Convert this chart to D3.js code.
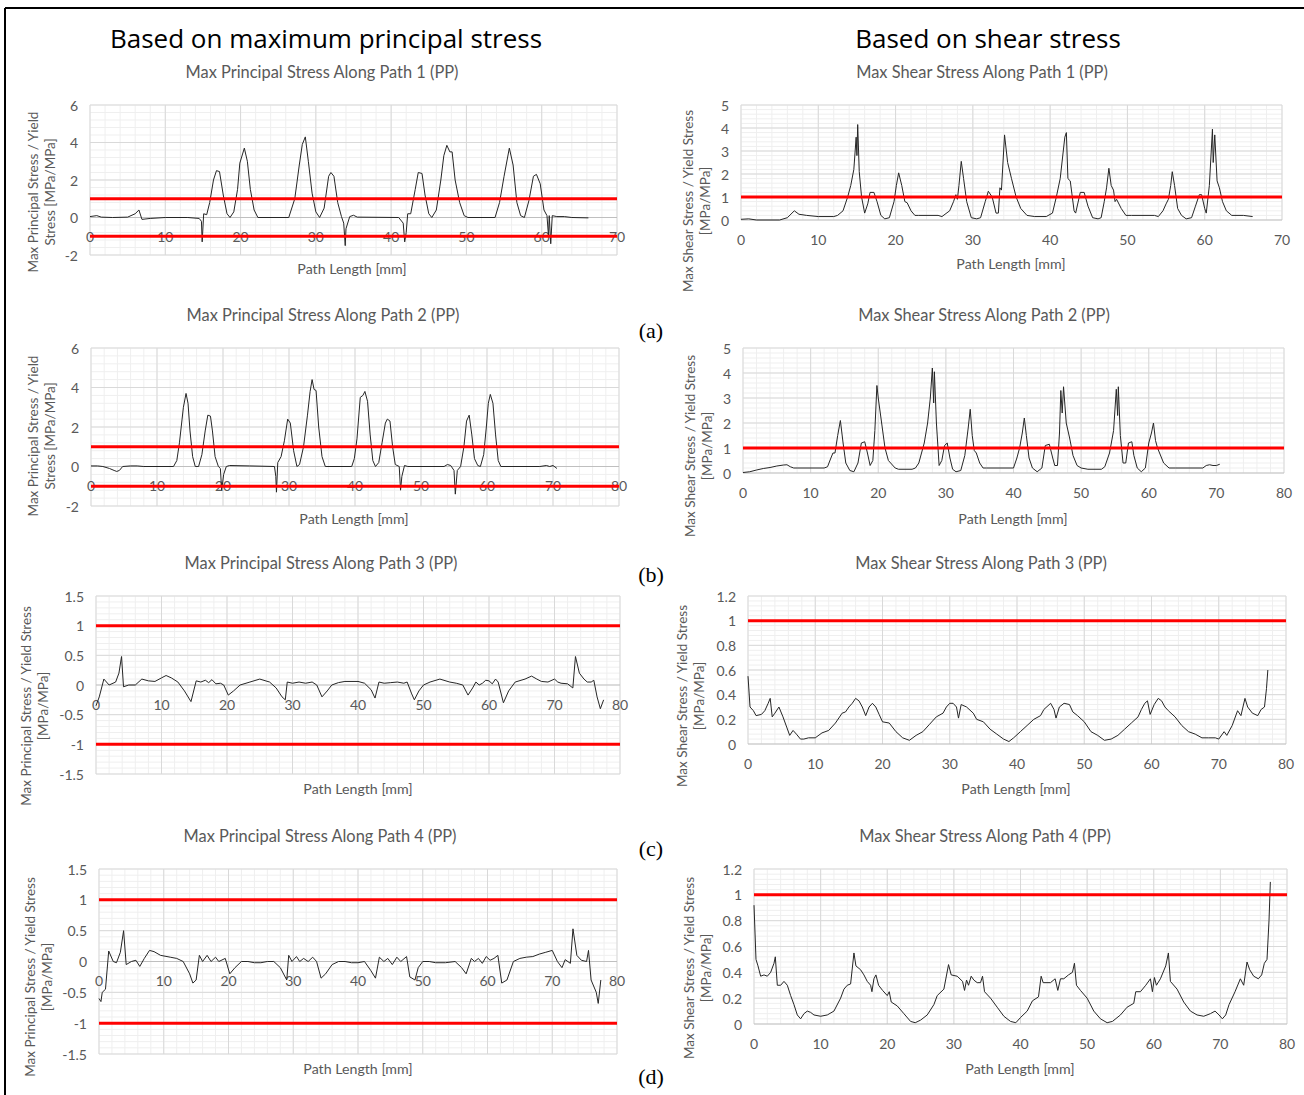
<!DOCTYPE html>
<html>
<head>
<meta charset="utf-8">
<script src="https://cdn.jsdelivr.net/npm/d3@7"></script>
<style>
  body { margin: 0; background: #fff; }
  svg { display: block; font-family: Lato, "Noto Sans", sans-serif; }
</style>
</head>
<body>
<div id="container"></div>
<script>
// ---- data ----
var xTicks70 = [0, 10, 20, 30, 40, 50, 60, 70];
var xTicks80 = [0, 10, 20, 30, 40, 50, 60, 70, 80];
var principalTicksWide = [-2, 0, 2, 4, 6];
var shearTicksWide = [0, 1, 2, 3, 4, 5];
var principalTicksNarrow = [-1.5, -1, -0.5, 0, 0.5, 1, 1.5];
var shearTicksNarrow = [0, 0.2, 0.4, 0.6, 0.8, 1, 1.2];
var principalLimits = [1, -1];
var shearLimits = [1];

var p1Principal = [[0,0.05],[0.9,0.1],[1.5,0.02],[3,0],[5,0.02],[6,0.2],[6.5,0.4],[6.9,-0.1],[8,-0.05],[10,0],[13,0],[14.5,-0.05],[14.8,-0.2],[14.9,-1.3],[15.1,0.2],[15.5,0.15],[15.9,0.8],[16.4,2.0],[16.8,2.5],[17.2,2.45],[17.7,1.2],[18.2,0.2],[18.6,0],[19.1,0.3],[19.6,1.5],[19.9,2.9],[20.5,3.7],[20.9,3.0],[21.3,1.5],[21.8,0.4],[22.3,0],[26.4,0],[27.2,1.0],[27.8,2.8],[28.2,3.9],[28.6,4.3],[29.0,3.0],[29.5,1.3],[30.0,0.3],[30.5,0],[31.1,0.5],[31.7,2.2],[32.0,2.4],[32.4,2.2],[32.9,0.8],[33.4,0.05],[33.7,-0.3],[33.9,-1.5],[34.0,-0.6],[34.5,0.05],[35.0,0.12],[35.5,0.02],[41.0,0],[41.6,-0.3],[41.8,-1.3],[42.0,-0.8],[42.2,0.2],[42.6,0.2],[43.2,1.5],[43.6,2.4],[44.1,2.35],[44.5,1.2],[45.0,0.2],[45.4,0],[46.0,0.4],[46.6,2.0],[47.0,3.3],[47.4,3.85],[47.8,3.5],[48.1,3.5],[48.5,2.0],[49.1,0.8],[49.7,0.1],[50.2,0],[53.8,0],[54.4,0.8],[55.0,2.2],[55.7,3.7],[56.2,2.8],[56.7,0.8],[57.2,0.1],[57.7,0],[58.3,0.9],[58.9,2.2],[59.3,2.3],[59.8,1.8],[60.3,0.4],[60.7,0.1],[60.9,-1.0],[61.0,0.1],[61.2,-1.4],[61.4,0.1],[62,0.05],[63,0.05],[64,0],[66.2,-0.02]];

var p1Shear = [[0,0.03],[1,0.05],[2,0],[5,0],[6,0.1],[6.9,0.4],[7.5,0.25],[8.5,0.2],[10,0.15],[12,0.15],[12.5,0.2],[13.2,0.4],[13.8,1.0],[14.2,1.5],[14.6,2.2],[14.9,3.6],[15.0,2.8],[15.1,4.15],[15.3,2.1],[15.6,1.0],[16.0,0.3],[16.4,0.7],[16.7,1.2],[17.2,1.2],[17.6,0.8],[18.1,0.2],[18.6,0.05],[19.2,0.1],[19.8,0.8],[20.1,1.5],[20.4,2.05],[20.8,1.5],[21.2,0.8],[21.5,0.75],[22,0.4],[22.5,0.2],[23,0.2],[25.5,0.2],[26,0.15],[27,0.4],[27.5,0.8],[27.8,1.1],[28,0.9],[28.2,1.5],[28.5,2.55],[28.8,1.8],[29.2,0.8],[29.8,0.1],[30.5,0.05],[31,0.1],[31.6,0.8],[32,1.25],[32.5,1.0],[33,0.3],[33.3,0.3],[33.5,1.4],[33.7,1.3],[34.1,3.7],[34.5,2.5],[35,1.8],[35.6,1.0],[36.2,0.5],[37,0.2],[38,0.15],[39.5,0.15],[40.3,0.3],[40.8,1.0],[41.3,1.8],[41.9,3.6],[42.1,3.8],[42.3,1.8],[42.6,1.7],[43.1,0.4],[43.3,0.3],[43.9,1.2],[44.4,1.2],[44.9,0.6],[45.5,0.1],[46.2,0.05],[46.6,0.1],[47,0.8],[47.3,1.4],[47.6,2.25],[47.9,1.5],[48.2,1.3],[48.4,0.8],[48.6,0.9],[49.2,0.5],[49.8,0.2],[50.5,0.2],[53.5,0.2],[54,0.15],[54.6,0.4],[55,0.7],[55.3,0.9],[55.6,1.5],[55.8,2.1],[56.1,1.5],[56.5,0.5],[57,0.2],[57.6,0.05],[58.3,0.1],[58.8,0.6],[59.3,1.1],[59.6,1.1],[60,0.5],[60.2,0.3],[60.6,1.5],[61,3.95],[61.1,2.5],[61.3,3.7],[61.6,1.7],[61.9,1.4],[62.3,0.8],[62.8,0.4],[63.5,0.2],[65,0.2],[66.2,0.15]];

var p2Principal = [[0,0.03],[1,0.03],[1.8,0],[2.8,-0.1],[3.5,-0.2],[3.9,-0.25],[4.3,-0.2],[4.8,0],[6,0.03],[7,0.03],[8,0],[12.5,0],[13.0,0.3],[13.4,1.2],[13.8,2.4],[14.0,3.0],[14.4,3.7],[14.7,3.2],[15.0,1.8],[15.4,0.5],[15.8,0],[16.3,0],[16.8,0.6],[17.3,1.8],[17.7,2.6],[18.1,2.55],[18.4,1.8],[18.8,0.5],[19.3,0],[19.6,-0.1],[19.8,-1.2],[20.1,-0.4],[20.5,0],[21,0.05],[24,0.03],[27.8,0],[28.0,-0.5],[28.1,-1.3],[28.3,0.2],[28.8,0.5],[29.3,1.3],[29.8,2.4],[30.2,2.2],[30.7,0.8],[31.2,0],[31.6,0.1],[32.2,1.0],[32.8,2.6],[33.2,3.8],[33.5,4.4],[33.8,3.9],[34.1,3.85],[34.5,2.0],[35,0.5],[35.5,0],[39.5,0],[39.9,0.4],[40.3,1.4],[40.8,3.5],[41.2,3.6],[41.5,3.8],[41.9,3.3],[42.3,1.6],[42.7,0.3],[43.1,0],[43.6,0.2],[44.1,1.2],[44.6,2.2],[44.9,2.4],[45.3,2.3],[45.7,1.0],[46.1,0.1],[46.7,0],[46.9,-1.2],[47.1,-0.5],[47.5,0.05],[48,0],[53.5,0],[54,0.1],[54.5,0.05],[55,-0.2],[55.2,-1.4],[55.5,-0.2],[56,0],[56.5,1.0],[56.9,2.3],[57.3,2.6],[57.7,1.6],[58.1,0.4],[58.6,0.05],[59,0],[59.5,0.6],[59.9,2.0],[60.2,3.2],[60.5,3.65],[60.9,3.2],[61.3,1.6],[61.7,0.3],[62.1,0],[68,0],[69,0.05],[69.5,0],[70,0.05],[70.6,-0.1]];

var p2Shear = [[0,0.02],[1,0.05],[2,0.12],[3,0.18],[4,0.22],[5,0.28],[6,0.32],[6.5,0.33],[7,0.25],[7.5,0.2],[8,0.2],[12,0.2],[12.5,0.25],[13,0.6],[13.3,0.8],[13.6,0.8],[14,1.5],[14.4,2.1],[14.8,1.2],[15.2,0.4],[15.8,0.1],[16.4,0.05],[17,0.4],[17.5,1.2],[18,1.25],[18.4,0.8],[18.8,0.3],[19.2,0.5],[19.5,1.7],[19.8,3.5],[20,3.0],[20.5,2.0],[21,1.0],[21.5,0.5],[22.5,0.2],[23,0.15],[25,0.15],[25.5,0.2],[26,0.4],[26.8,1.2],[27.3,2.0],[27.7,3.0],[28.0,4.2],[28.2,2.8],[28.3,4.05],[28.6,2.0],[29,0.3],[29.4,0.5],[29.8,1.1],[30.2,1.2],[30.6,0.6],[31,0.15],[31.5,0.05],[32.2,0.1],[32.8,0.7],[33.3,1.8],[33.6,2.55],[33.9,1.5],[34.2,0.9],[34.5,0.8],[35,0.4],[35.5,0.2],[36,0.2],[40,0.2],[40.5,0.6],[40.9,1.0],[41.3,1.6],[41.6,2.2],[41.9,1.5],[42.3,0.6],[42.8,0.2],[43.5,0.05],[44.2,0.2],[44.7,1.1],[45.3,1.15],[45.8,0.6],[46.1,0.3],[46.5,0.3],[46.8,1.6],[47.0,3.3],[47.2,2.4],[47.4,3.45],[47.8,2.0],[48.3,1.4],[48.8,0.7],[49.4,0.3],[50,0.2],[51,0.15],[53,0.15],[53.5,0.25],[54.2,0.8],[54.8,1.7],[55.2,3.35],[55.4,2.3],[55.5,3.45],[55.8,1.5],[56.2,0.4],[56.6,0.4],[57,1.2],[57.5,1.25],[57.8,0.7],[58.3,0.2],[58.9,0.05],[59.5,0.2],[60,1.2],[60.4,1.6],[60.7,2.0],[61,1.3],[61.3,1.0],[61.6,0.8],[62.2,0.4],[63,0.2],[64,0.2],[68,0.2],[68.5,0.3],[69,0.33],[69.5,0.3],[70,0.3],[70.5,0.35]];

var p3Principal = [[0,-0.35],[0.5,-0.2],[1.2,0.1],[2,0],[3,0.05],[3.5,0.2],[3.9,0.48],[4.2,-0.03],[5,0],[6,0],[7,0.1],[8,0.07],[9,0.06],[10,0.12],[10.7,0.16],[11.5,0.12],[12.5,0.05],[13.5,-0.1],[14.5,-0.28],[15.3,0.07],[16,0.05],[16.7,0.08],[17.2,0.04],[17.7,0.09],[18.3,0.02],[19,0.03],[19.5,0],[20.2,-0.17],[21,-0.1],[22,0],[23.5,0.05],[25,0.1],[26.5,0.05],[27.5,-0.05],[28.4,-0.2],[28.9,-0.25],[29.2,0.05],[30,0.03],[31,0.05],[32,0.03],[33,0.05],[33.7,0],[34.5,-0.2],[35.3,-0.1],[36,0],[37,0.04],[38,0.06],[40,0.06],[41,0.03],[42,-0.08],[42.6,-0.22],[43.2,0.05],[44,0.03],[45,0.04],[46,0.05],[47,0.03],[47.5,0.05],[48.2,-0.15],[48.6,-0.25],[49.3,-0.1],[50,0],[51,0.05],[52.5,0.1],[54,0.05],[55,0.03],[56,0],[56.8,-0.17],[57.5,-0.05],[58,0.05],[58.5,0],[59,0.03],[59.5,0.08],[60,0.07],[60.5,0.02],[61,0.1],[61.4,0.05],[62.2,-0.3],[63,-0.1],[64,0.05],[65.5,0.1],[66.5,0.15],[67.3,0.1],[68,0.06],[69,0.05],[70,0.1],[70.5,0.05],[71,0.03],[72,0.02],[72.8,-0.05],[73.2,0.48],[73.8,0.2],[74.5,0.1],[75,0.05],[75.6,0.05],[76,0.08],[76.5,-0.2],[77,-0.4],[77.5,-0.25]];

var p3Shear = [[0,0.55],[0.3,0.3],[0.8,0.27],[1.2,0.23],[2,0.24],[2.5,0.27],[3,0.33],[3.3,0.37],[3.6,0.22],[4,0.25],[4.6,0.3],[5.2,0.22],[5.8,0.13],[6.2,0.07],[6.7,0.11],[7.2,0.08],[7.8,0.04],[8.3,0.04],[9,0.05],[10,0.05],[11,0.09],[12,0.11],[13,0.17],[14,0.25],[14.5,0.26],[15,0.3],[15.5,0.33],[16,0.37],[16.5,0.35],[17,0.3],[17.5,0.23],[18,0.3],[18.5,0.33],[19,0.3],[19.5,0.24],[20,0.18],[21,0.17],[22,0.1],[23,0.05],[24,0.03],[25,0.07],[26,0.1],[27,0.16],[28,0.22],[29,0.25],[29.5,0.3],[30,0.33],[30.5,0.33],[31,0.3],[31.3,0.21],[31.7,0.32],[32.5,0.3],[33.5,0.25],[34,0.2],[35,0.18],[36,0.12],[37,0.08],[38,0.04],[38.8,0.02],[39.5,0.05],[40.5,0.1],[41.5,0.15],[42.5,0.2],[43.5,0.23],[44,0.28],[45,0.33],[45.5,0.28],[45.8,0.21],[46.3,0.3],[47,0.33],[47.8,0.32],[48.3,0.26],[49,0.23],[50,0.18],[51,0.1],[52,0.07],[53,0.03],[54,0.04],[55,0.07],[56,0.12],[57,0.17],[58,0.22],[58.5,0.28],[59,0.33],[59.4,0.35],[59.8,0.24],[60.4,0.32],[61,0.37],[61.5,0.35],[62,0.3],[62.5,0.27],[63.5,0.22],[64.5,0.15],[65.5,0.1],[66.5,0.08],[67.5,0.05],[68.5,0.05],[69.5,0.05],[70,0.04],[70.8,0.1],[71.2,0.07],[72,0.15],[72.8,0.27],[73.3,0.23],[73.9,0.37],[74.3,0.3],[75,0.25],[75.8,0.23],[76.3,0.28],[76.8,0.3],[77.1,0.45],[77.3,0.6]];

var p4Principal = [[0,-0.6],[0.3,-0.65],[0.5,-0.5],[1,-0.45],[1.5,0.17],[2.2,0],[2.7,-0.02],[3.3,0.15],[3.8,0.5],[4.2,-0.05],[5,0],[5.7,0.02],[6.3,-0.08],[7,0.05],[7.8,0.18],[8.5,0.16],[9.5,0.1],[11,0.07],[12,0.05],[13,0],[14,-0.2],[14.5,-0.35],[15,-0.3],[15.5,0.1],[16,0],[16.7,0.1],[17.3,0],[18,0.07],[18.5,0],[19.5,0.05],[20.2,-0.2],[21,-0.1],[22,0],[23,0],[24,-0.02],[25,-0.02],[26,0],[27,0],[28,-0.1],[29,-0.3],[29.3,0.1],[29.8,0],[30.5,0.08],[31,0],[31.6,0.05],[32.3,0],[33,0.07],[33.6,0],[34.3,-0.27],[35,-0.2],[36,-0.05],[37,0],[38,0],[39,-0.02],[40,-0.02],[41,0],[42,-0.15],[42.7,-0.27],[43.3,0.07],[44,0],[44.6,0.05],[45.3,-0.05],[46,0.07],[46.6,0],[47.5,0.08],[48,-0.25],[48.8,-0.3],[49.3,-0.1],[50,0],[51,0],[52,-0.02],[53.5,-0.02],[55,0],[56,-0.1],[56.7,-0.2],[57.5,0.05],[58,0],[58.6,0.05],[59.2,-0.03],[59.8,0.08],[60.4,0.02],[61,0.05],[61.6,0.1],[62.2,-0.35],[63,-0.3],[64,0],[65,0.05],[66,0.07],[67,0.08],[68,0.12],[69,0.15],[70,0.18],[70.8,0],[71.5,-0.1],[72,0.03],[72.8,-0.03],[73.2,0.53],[73.8,0.1],[74.5,0.02],[75.3,0],[75.6,0.18],[76,-0.3],[76.8,-0.5],[77.1,-0.68],[77.5,-0.3]];

var p4Shear = [[0,0.92],[0.3,0.5],[0.6,0.45],[1,0.37],[1.5,0.38],[2,0.37],[2.5,0.4],[3,0.47],[3.2,0.52],[3.5,0.3],[4,0.3],[4.5,0.33],[5,0.3],[5.5,0.22],[6,0.15],[6.5,0.07],[7,0.04],[7.5,0.08],[8,0.1],[8.5,0.09],[9,0.07],[10,0.06],[11,0.07],[12,0.1],[13,0.2],[13.5,0.27],[14,0.3],[14.5,0.31],[15,0.55],[15.3,0.45],[16,0.42],[16.5,0.38],[17,0.33],[17.5,0.3],[17.7,0.25],[18,0.35],[18.3,0.38],[18.7,0.3],[19.3,0.26],[20,0.22],[20.3,0.25],[20.6,0.17],[21.5,0.14],[22.5,0.08],[23.5,0.02],[24.2,0.01],[25,0.03],[26,0.07],[27,0.15],[27.5,0.22],[28.5,0.27],[29.2,0.46],[29.6,0.38],[30.5,0.37],[31.3,0.33],[31.6,0.26],[31.9,0.34],[32.2,0.3],[32.6,0.37],[33,0.34],[33.5,0.32],[34,0.32],[34.3,0.37],[34.6,0.25],[35.5,0.2],[36.5,0.13],[37.5,0.06],[38.5,0.02],[39.3,0.01],[40,0.05],[41,0.1],[41.8,0.18],[42.7,0.21],[43.1,0.37],[43.4,0.32],[44.5,0.32],[45.2,0.35],[45.6,0.26],[46,0.35],[46.5,0.35],[47.2,0.38],[47.8,0.4],[48.1,0.47],[48.4,0.3],[49,0.26],[50,0.2],[51,0.1],[52,0.04],[53,0.01],[53.8,0.02],[55,0.07],[56,0.13],[57,0.16],[57.3,0.25],[58,0.25],[58.8,0.3],[59.5,0.35],[59.8,0.25],[60.1,0.36],[60.4,0.3],[61,0.35],[61.8,0.45],[62.2,0.55],[62.5,0.33],[63.5,0.27],[64.5,0.17],[65.5,0.1],[66.5,0.07],[67.5,0.06],[68.5,0.08],[69.2,0.1],[69.8,0.07],[70.3,0.04],[70.8,0.07],[71.3,0.15],[72.2,0.25],[73,0.35],[73.5,0.3],[74,0.48],[74.4,0.42],[75,0.37],[75.7,0.35],[76.2,0.38],[76.6,0.47],[77,0.5],[77.3,0.8],[77.5,1.1]];

var yTitlePrincipalA = ["Max Principal Stress / Yield", "Stress [MPa/MPa]"];
var yTitlePrincipalB = ["Max Principal Stress / Yield Stress", "[MPa/MPa]"];
var yTitleShear = ["Max Shear Stress / Yield Stress", "[MPa/MPa]"];

// ---- layout ----
var width = 1304, height = 1095;
var svg = d3.select("#container").append("svg")
    .attr("width", width).attr("height", height);

// frame (top and left edge of the figure box)
svg.append("line").attr("x1", 5).attr("x2", width).attr("y1", 8).attr("y2", 8)
    .attr("stroke", "#000").attr("stroke-width", 2);
svg.append("line").attr("x1", 5).attr("x2", 5).attr("y1", 8).attr("y2", height)
    .attr("stroke", "#000").attr("stroke-width", 2);

svg.append("text").attr("x", 326).attr("y", 38).attr("text-anchor", "middle")
    .attr("dominant-baseline", "central").attr("font-family", "'Open Sans', sans-serif")
    .attr("font-size", 26).attr("fill", "#000")
    .text("Based on maximum principal stress");
svg.append("text").attr("x", 988).attr("y", 38).attr("text-anchor", "middle")
    .attr("dominant-baseline", "central").attr("font-family", "'Open Sans', sans-serif")
    .attr("font-size", 26).attr("fill", "#000")
    .text("Based on shear stress");

[["(a)", 330], ["(b)", 574], ["(c)", 848], ["(d)", 1076]].forEach(function(d) {
  svg.append("text").attr("x", 651).attr("y", d[1]).attr("text-anchor", "middle")
      .attr("dominant-baseline", "central")
      .attr("font-family", "'Liberation Serif', 'Times New Roman', serif")
      .attr("font-size", 22).attr("fill", "#000").text(d[0]);
});

var panels = [
  { data: p1Principal, limits: principalLimits, title: "Max Principal Stress Along Path 1 (PP)", xt: xTicks70, yt: principalTicksWide,
    x0: 90, x1: 617, y0: 255, y1: 105, ySub: 5, titleX: 322, titleY: 71, axX: 352, axY: 268, yTitle: yTitlePrincipalA, ytX: 33, ytY: 192 },
  { data: p1Shear, limits: shearLimits, title: "Max Shear Stress Along Path 1 (PP)", xt: xTicks70, yt: shearTicksWide,
    x0: 741, x1: 1282, y0: 220, y1: 105, ySub: 5, titleX: 982, titleY: 71, axX: 1011, axY: 263, yTitle: yTitleShear, ytX: 688, ytY: 201 },
  { data: p2Principal, limits: principalLimits, title: "Max Principal Stress Along Path 2 (PP)", xt: xTicks80, yt: principalTicksWide,
    x0: 91, x1: 619, y0: 506, y1: 348, ySub: 5, titleX: 323, titleY: 314, axX: 354, axY: 518, yTitle: yTitlePrincipalA, ytX: 33, ytY: 436 },
  { data: p2Shear, limits: shearLimits, title: "Max Shear Stress Along Path 2 (PP)", xt: xTicks80, yt: shearTicksWide,
    x0: 743, x1: 1284, y0: 473, y1: 348, ySub: 5, titleX: 984, titleY: 314, axX: 1013, axY: 518, yTitle: yTitleShear, ytX: 690, ytY: 446 },
  { data: p3Principal, limits: principalLimits, title: "Max Principal Stress Along Path 3 (PP)", xt: xTicks80, yt: principalTicksNarrow,
    x0: 96, x1: 620, y0: 774, y1: 596, ySub: 5, titleX: 321, titleY: 562, axX: 358, axY: 788, yTitle: yTitlePrincipalB, ytX: 26, ytY: 706 },
  { data: p3Shear, limits: shearLimits, title: "Max Shear Stress Along Path 3 (PP)", xt: xTicks80, yt: shearTicksNarrow,
    x0: 748, x1: 1286, y0: 744, y1: 596, ySub: 5, titleX: 981, titleY: 562, axX: 1016, axY: 788, yTitle: yTitleShear, ytX: 682, ytY: 696 },
  { data: p4Principal, limits: principalLimits, title: "Max Principal Stress Along Path 4 (PP)", xt: xTicks80, yt: principalTicksNarrow,
    x0: 99, x1: 617, y0: 1054, y1: 869, ySub: 5, titleX: 320, titleY: 835, axX: 358, axY: 1068, yTitle: yTitlePrincipalB, ytX: 30, ytY: 977 },
  { data: p4Shear, limits: shearLimits, title: "Max Shear Stress Along Path 4 (PP)", xt: xTicks80, yt: shearTicksNarrow,
    x0: 754, x1: 1287, y0: 1024, y1: 869, ySub: 5, titleX: 985, titleY: 835, axX: 1020, axY: 1068, yTitle: yTitleShear, ytX: 689, ytY: 968 }
];

panels.forEach(drawPanel);

function drawPanel(p) {
  var g = svg.append("g");
  var xs = d3.scaleLinear().domain([p.xt[0], p.xt[p.xt.length - 1]]).range([p.x0, p.x1]);
  var ys = d3.scaleLinear().domain([p.yt[0], p.yt[p.yt.length - 1]]).range([p.y0, p.y1]);

  // minor grid
  var xStep = (p.xt[1] - p.xt[0]) / 5, yStep = (p.yt[1] - p.yt[0]) / p.ySub;
  var xMinor = d3.range(xs.domain()[0], xs.domain()[1] + 1e-9, xStep);
  var yMinor = d3.range(0, Math.round((ys.domain()[1] - ys.domain()[0]) / yStep) + 1)
      .map(function(i) { return ys.domain()[0] + i * yStep; });
  g.append("g").selectAll("line").data(xMinor).join("line")
      .attr("x1", function(d) { return xs(d); }).attr("x2", function(d) { return xs(d); })
      .attr("y1", p.y0).attr("y2", p.y1).attr("stroke", "#efefef").attr("stroke-width", 1);
  g.append("g").selectAll("line").data(yMinor).join("line")
      .attr("x1", p.x0).attr("x2", p.x1)
      .attr("y1", function(d) { return ys(d); }).attr("y2", function(d) { return ys(d); })
      .attr("stroke", "#efefef").attr("stroke-width", 1);

  // major grid
  g.append("g").selectAll("line").data(p.xt).join("line")
      .attr("x1", function(d) { return xs(d); }).attr("x2", function(d) { return xs(d); })
      .attr("y1", p.y0).attr("y2", p.y1).attr("stroke", "#d9d9d9").attr("stroke-width", 1);
  g.append("g").selectAll("line").data(p.yt).join("line")
      .attr("x1", p.x0).attr("x2", p.x1)
      .attr("y1", function(d) { return ys(d); }).attr("y2", function(d) { return ys(d); })
      .attr("stroke", function(d) { return d === 0 ? "#bfbfbf" : "#d9d9d9"; }).attr("stroke-width", 1);

  // y tick labels
  g.append("g").selectAll("text").data(p.yt).join("text")
      .attr("x", p.x0 - 12).attr("y", function(d) { return ys(d); })
      .attr("text-anchor", "end").attr("dominant-baseline", "central")
      .attr("font-size", 14).attr("fill", "#595959")
      .text(function(d) { return String(d); });

  // x tick labels sit just under the zero line
  g.append("g").selectAll("text").data(p.xt).join("text")
      .attr("x", function(d) { return xs(d); }).attr("y", ys(0) + 19)
      .attr("text-anchor", "middle").attr("dominant-baseline", "central")
      .attr("font-size", 14).attr("fill", "#595959")
      .text(function(d) { return String(d); });

  // data curve
  var line = d3.line().x(function(d) { return xs(d[0]); }).y(function(d) { return ys(d[1]); });
  g.append("path").attr("d", line(p.data)).attr("fill", "none")
      .attr("stroke", "#262626").attr("stroke-width", 1).attr("stroke-linejoin", "round");

  // limit lines
  g.append("g").selectAll("line").data(p.limits).join("line")
      .attr("x1", p.x0).attr("x2", p.x1)
      .attr("y1", function(d) { return ys(d); }).attr("y2", function(d) { return ys(d); })
      .attr("stroke", "#ff0000").attr("stroke-width", 3);

  // titles
  g.append("text").attr("x", p.titleX).attr("y", p.titleY).attr("text-anchor", "middle")
      .attr("dominant-baseline", "central").attr("font-size", 16.4).attr("fill", "#595959").text(p.title);
  g.append("text").attr("x", p.axX).attr("y", p.axY).attr("text-anchor", "middle")
      .attr("dominant-baseline", "central").attr("font-size", 14.2).attr("fill", "#595959").text("Path Length [mm]");

  var yt = g.append("text").attr("transform", "translate(" + p.ytX + "," + p.ytY + ") rotate(-90)")
      .attr("text-anchor", "middle").attr("font-size", 13.5).attr("fill", "#595959");
  p.yTitle.forEach(function(s, i) {
    yt.append("tspan").attr("x", 0).attr("y", 0).attr("dy", (i * 17) + "px")
        .attr("dominant-baseline", "central").text(s);
  });
}
</script>
</body>
</html>
